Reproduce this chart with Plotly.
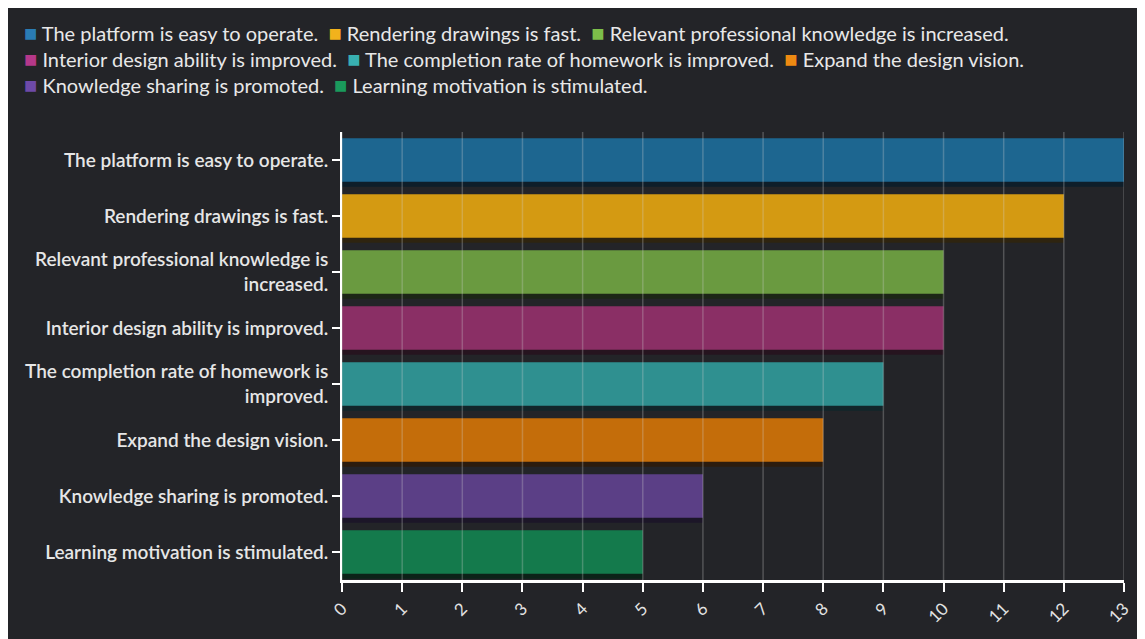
import plotly.graph_objects as go

categories = [
    "The platform is easy to operate.",
    "Rendering drawings is fast.",
    "Relevant professional knowledge is increased.",
    "Interior design ability is improved.",
    "The completion rate of homework is improved.",
    "Expand the design vision.",
    "Knowledge sharing is promoted.",
    "Learning motivation is stimulated.",
]
tick_text = [
    "The platform is easy to operate.",
    "Rendering drawings is fast.",
    "Relevant professional knowledge is<br>increased.",
    "Interior design ability is improved.",
    "The completion rate of homework is<br>improved.",
    "Expand the design vision.",
    "Knowledge sharing is promoted.",
    "Learning motivation is stimulated.",
]
values = [13, 12, 10, 10, 9, 8, 6, 5]
bar_colors = ["#1d6690", "#d49a12", "#6a9a40", "#8a2f65", "#2f9090", "#c46d0a", "#5b3f86", "#147a4c"]
shadow_colors = ["#0e1e2a", "#2e2410", "#1c2616", "#26141f", "#12262a", "#2c1c0e", "#1c1628", "#0c2218"]
legend_colors = ["#2a7cb4", "#f2b21c", "#7cbf4a", "#b5388a", "#38b0b0", "#ee8a12", "#6e4aa8", "#1a9a5c"]
legend_rows = [[0, 1, 2], [3, 4, 5], [6, 7]]
x_ticks = list(range(0, 14))

# figure is placed by the page at (8, 8)
W, H = 1137, 631
L, T = 334, 124
PR, PB = 1119, 583
R, B = W - PR, H - PB
pw, ph = PR - L, PB - T

def px_x(p):
    return (p - L) / pw

def px_y(p):
    return (PB - p) / ph

BG = "#232428"
FONT = "Lato"
BAR_W = 0.78
SHADOW_SHIFT = 5 / (ph / len(categories))

fig = go.Figure()
# dark drop shadow under each bar
fig.add_trace(go.Bar(
    y=categories, x=values, orientation="h",
    width=BAR_W, offset=-BAR_W / 2 + SHADOW_SHIFT,
    marker=dict(color=shadow_colors, line=dict(width=0)),
    showlegend=False, hoverinfo="skip",
))
for cat, val, col in zip(categories, values, bar_colors):
    fig.add_trace(go.Bar(
        y=[cat], x=[val], name=cat, orientation="h",
        width=BAR_W, offset=-BAR_W / 2,
        marker=dict(color=col, line=dict(width=0)),
        showlegend=False,
    ))

shapes = []
for t in x_ticks:
    shapes.append(dict(type="line", xref="x", yref="paper", x0=t, x1=t, y0=0, y1=1,
                       line=dict(color="rgba(210,210,210,0.28)", width=1.5), layer="above"))

# legend drawn as one block of text, one line per row
lines = []
for row in legend_rows:
    parts = []
    for i in row:
        parts.append("<span style='color:%s;font-size:22px'>■</span>&nbsp;%s" % (legend_colors[i], categories[i]))
    lines.append("&nbsp;&nbsp;".join(parts))

annotations = [dict(
    text="<br>".join(lines), xref="paper", yref="paper",
    x=px_x(13), y=px_y(49), xanchor="left", yanchor="middle", showarrow=False,
    font=dict(family=FONT, size=20, color="#e8e8e8"), align="left",
)]

fig.update_layout(
    width=W, height=H,
    margin=dict(l=L, r=R, t=T, b=B, pad=0),
    paper_bgcolor=BG, plot_bgcolor=BG,
    barmode="overlay",
    font=dict(family=FONT, color="#e6e6e6"),
    showlegend=False,
    xaxis=dict(range=[0, 13], tickvals=x_ticks, ticktext=[str(t) for t in x_ticks],
               showgrid=False, zeroline=False, showline=True, linecolor="white", linewidth=3,
               ticks="outside", ticklen=9, tickwidth=2, tickcolor="white", tickangle=-45,
               tickfont=dict(family=FONT, size=17, color="#e2e2e2")),
    yaxis=dict(categoryorder="array", categoryarray=categories, autorange="reversed",
               tickvals=categories, ticktext=tick_text,
               showgrid=False, zeroline=False, showline=True, linecolor="white", linewidth=2,
               ticks="outside", ticklen=8, tickwidth=2, tickcolor="white",
               tickfont=dict(family=FONT, size=19, color="#e6e6e6", weight=600)),
    shapes=shapes,
    annotations=annotations,
)

fig.write_html("out.html")
